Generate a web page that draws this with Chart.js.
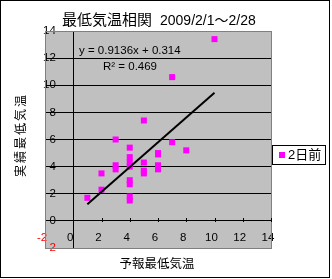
<!DOCTYPE html>
<html>
<head>
<meta charset="utf-8">
<script src="https://cdn.jsdelivr.net/npm/chart.js@4"></script>
<style>
  html, body { margin: 0; padding: 0; background: #fff; }
  canvas { display: block; }
</style>
</head>
<body>
<canvas id="chart" width="332" height="279"></canvas>
<script>
// 予報最低気温 (x) と 実績最低気温 (y)、2日前の予報
const forecastTemps = [1, 2, 2, 3, 3, 3, 4, 4, 4, 4, 4, 4, 4, 4, 5, 5, 5, 5, 6, 6, 6, 6, 7, 7, 8, 10];
const actualTemps = [1.7, 3.5, 2.3, 6.0, 4.1, 3.8, 5.4, 4.7, 4.3, 4.0, 3.0, 2.7, 1.8, 1.5, 7.4, 4.3, 3.7, 3.5, 5.0, 4.9, 4.1, 3.8, 5.8, 10.6, 5.2, 13.4];
// 近似直線の両端（図から読んだ値）
const trendX = [1, 10];
const trendY = [1.23, 9.45];
const axisTicks = [-2, 0, 2, 4, 6, 8, 10, 12, 14];
const seriesLabel = '2日前';
const titleMain = '最低気温相関';
const titlePeriod = '2009/2/1～2/28';
const xTitle = '予報最低気温';
const yTitle = '実績最低気温';
const trendText = 'y = 0.9136x + 0.314';
const r2Text = 'R² = 0.469';

const FONT = '"Liberation Sans", "Noto Sans CJK JP", sans-serif';
const MAGENTA = '#ff00ff';

const excelLook = {
  id: 'excelLook',
  beforeDraw(chart) {
    const { ctx, chartArea: a } = chart;
    ctx.save();
    ctx.fillStyle = '#fff';
    ctx.fillRect(0, 0, chart.width, chart.height);
    ctx.fillStyle = '#c0c0c0';
    ctx.fillRect(a.left, a.top, a.right - a.left, a.bottom - a.top);
    ctx.restore();
  },
  afterDraw(chart) {
    const { ctx, chartArea: a } = chart;
    const xs = chart.scales.x;
    const ys = chart.scales.y;
    ctx.save();
    // plot border
    ctx.strokeStyle = '#808080';
    ctx.lineWidth = 1;
    ctx.strokeRect(a.left + 0.5, a.top + 0.5, a.right - a.left, a.bottom - a.top);
    // small tick marks on the x axis (y = 0)
    ctx.strokeStyle = '#000';
    const y0 = Math.round(ys.getPixelForValue(0));
    axisTicks.filter((v) => v > 0).forEach((v) => {
      const px = Math.round(xs.getPixelForValue(v)) + 0.5;
      ctx.beginPath();
      ctx.moveTo(px, y0 - 3);
      ctx.lineTo(px, y0 + 1);
      ctx.stroke();
    });
    // texts
    ctx.fillStyle = '#000';
    ctx.textBaseline = 'middle';
    ctx.textAlign = 'left';
    ctx.font = '15px ' + FONT;
    ctx.fillText(titleMain, 62, 21);
    ctx.font = '14px ' + FONT;
    ctx.fillText(titlePeriod, 160, 21);
    ctx.textAlign = 'center';
    ctx.font = '12.5px ' + FONT;
    ctx.fillText(xTitle, 157, 265);
    ctx.textAlign = 'left';
    ctx.font = '11.5px ' + FONT;
    ctx.fillText(trendText, 79, 51);
    ctx.fillText(r2Text, 103, 67);
    // y axis title
    ctx.save();
    ctx.translate(22, 135);
    ctx.rotate(-Math.PI / 2);
    ctx.textAlign = 'center';
    ctx.font = '12px ' + FONT;
    ctx.letterSpacing = '2px';
    ctx.fillText(yTitle, 0, 0);
    ctx.restore();
    // legend
    ctx.fillStyle = '#fff';
    ctx.fillRect(272, 145, 54, 20);
    ctx.strokeStyle = '#000';
    ctx.strokeRect(272.5, 145.5, 53, 19);
    ctx.fillStyle = MAGENTA;
    ctx.fillRect(279, 152, 6, 6);
    ctx.fillStyle = '#000';
    ctx.font = '13px ' + FONT;
    ctx.textAlign = 'left';
    ctx.fillText(seriesLabel, 288, 155.5);
    // outer frame
    ctx.strokeRect(0.5, 0.5, 329, 277);
    ctx.restore();
  },
};

const ctx = document.getElementById('chart');
new Chart(ctx, {
  type: 'scatter',
  data: {
    datasets: [
      {
        type: 'line',
        label: 'trend',
        data: trendX.map((x, i) => ({ x: x, y: trendY[i] })),
        borderColor: '#000',
        borderWidth: 2,
        pointRadius: 0,
        fill: false,
        order: 0,
      },
      {
        label: seriesLabel,
        data: forecastTemps.map((x, i) => ({ x: x, y: actualTemps[i] })),
        backgroundColor: MAGENTA,
        borderWidth: 0,
        pointStyle: 'rect',
        pointRadius: 4.25,
        order: 1,
      },
    ],
  },
  options: {
    responsive: false,
    animation: false,
    layout: { padding: { left: 45, right: 61, top: 31, bottom: 31 } },
    plugins: {
      legend: { display: false },
      tooltip: { enabled: false },
      title: { display: false },
    },
    scales: {
      x: {
        type: 'linear',
        position: 'bottom',
        min: -2,
        max: 14,
        afterBuildTicks: (axis) => {
          axis.ticks = axisTicks.map((v) => ({ value: v }));
        },
        afterFit: (axis) => {
          axis.height = 0;
        },
        border: { display: false },
        grid: {
          drawTicks: false,
          color: (c) => (c.tick && c.tick.value === 0 ? '#000' : 'rgba(0,0,0,0)'),
        },
        ticks: {
          mirror: true,
          padding: 3,
          labelOffset: -3,
          maxRotation: 0,
          autoSkip: false,
          font: { family: FONT, size: 11.5 },
          color: (c) => (c.tick && c.tick.value === -2 ? '#ff0000' : '#000'),
        },
      },
      y: {
        type: 'linear',
        position: 'left',
        min: -2,
        max: 14,
        afterBuildTicks: (axis) => {
          axis.ticks = axisTicks.map((v) => ({ value: v }));
        },
        afterFit: (axis) => {
          axis.width = 0;
        },
        border: { display: false },
        grid: {
          drawTicks: false,
          color: (c) =>
            c.tick && c.tick.value > -2 && c.tick.value < 14 ? '#000' : 'rgba(0,0,0,0)',
        },
        ticks: {
          mirror: true,
          crossAlign: 'far',
          padding: -2,
          autoSkip: false,
          font: { family: FONT, size: 11.5 },
          color: (c) => (c.tick && c.tick.value === -2 ? '#ff0000' : '#000'),
        },
      },
    },
  },
  plugins: [excelLook],
});
</script>
</body>
</html>
